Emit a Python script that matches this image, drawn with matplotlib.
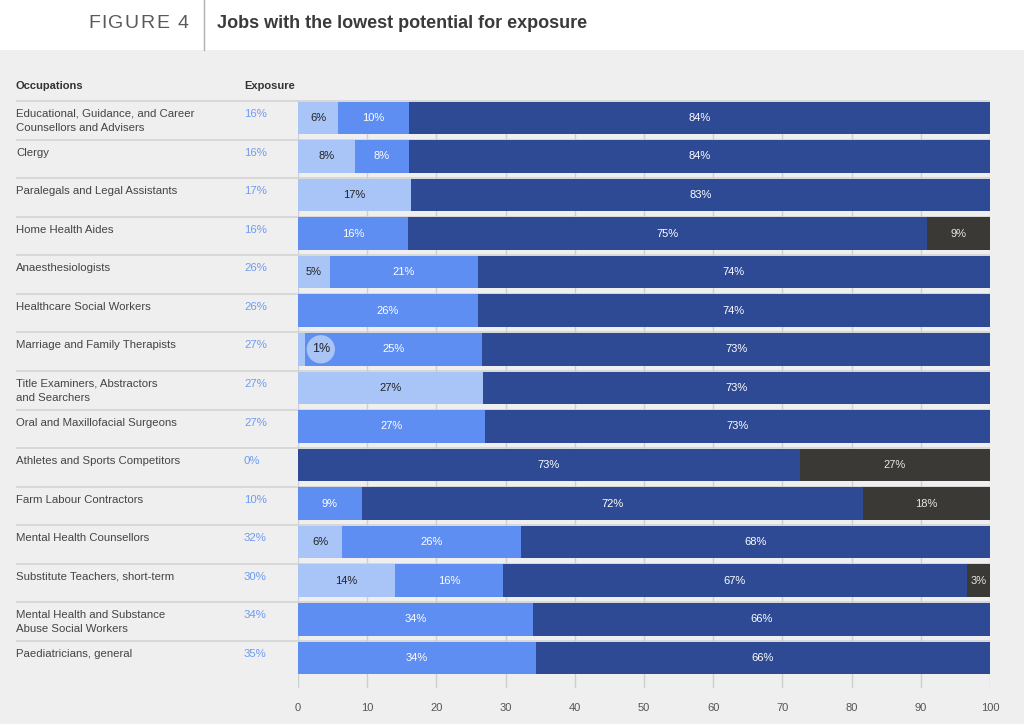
import matplotlib
matplotlib.use('Agg')
import matplotlib.pyplot as plt
from matplotlib.patches import Rectangle

plt.rcParams['font.family'] = ['Liberation Sans', 'DejaVu Sans']

occupations = [
    "Educational, Guidance, and Career\nCounsellors and Advisers",
    "Clergy",
    "Paralegals and Legal Assistants",
    "Home Health Aides",
    "Anaesthesiologists",
    "Healthcare Social Workers",
    "Marriage and Family Therapists",
    "Title Examiners, Abstractors\nand Searchers",
    "Oral and Maxillofacial Surgeons",
    "Athletes and Sports Competitors",
    "Farm Labour Contractors",
    "Mental Health Counsellors",
    "Substitute Teachers, short-term",
    "Mental Health and Substance\nAbuse Social Workers",
    "Paediatricians, general",
]
exposure = [16, 16, 17, 16, 26, 26, 27, 27, 27, 0, 10, 32, 30, 34, 35]

# segment widths
seg_light = [5.8, 8.2, 16.3, 0, 4.6, 0, 1.0, 26.7, 0, 0, 0, 6.4, 14.0, 0, 0]
seg_mid = [10.2, 7.8, 0, 15.9, 21.4, 26.0, 25.6, 0, 27.0, 0, 9.2, 25.8, 15.6, 34.0, 34.4]
seg_dark = [84.0, 84.0, 83.7, 75.0, 74.0, 74.0, 73.4, 73.3, 73.0, 72.5, 72.4, 67.8, 67.1, 66.0, 65.6]
seg_gray = [0, 0, 0, 9.1, 0, 0, 0, 0, 0, 27.5, 18.4, 0, 3.3, 0, 0]

# printed labels on the segments
lbl_light = [6, 8, 17, None, 5, None, 1, 27, None, None, None, 6, 14, None, None]
lbl_mid = [10, 8, None, 16, 21, 26, 25, None, 27, None, 9, 26, 16, 34, 34]
lbl_dark = [84, 84, 83, 75, 74, 74, 73, 73, 73, 73, 72, 68, 67, 66, 66]
lbl_gray = [None, None, None, 9, None, None, None, None, None, 27, 18, None, 3, None, None]

x_ticks = [0, 10, 20, 30, 40, 50, 60, 70, 80, 90, 100]

C_LIGHT = '#a9c5f7'
C_MID = '#5f8ef3'
C_DARK = '#2f4a95'
C_GRAY = '#3a3936'
BG = '#efefef'

W, H = 1024, 724
fig = plt.figure(figsize=(W / 100, H / 100), dpi=100, facecolor=BG)

# overlay axes in pixel coordinates
ov = fig.add_axes([0, 0, 1, 1], zorder=0)
ov.set_xlim(0, W)
ov.set_ylim(H, 0)
ov.axis('off')
ov.add_patch(Rectangle((0, 0), W, 50, facecolor='white', edgecolor='none'))
ov.plot([204, 204], [0, 50], color='#b0b0b0', lw=1)

# FIGURE 4 letter-spaced
adv = {'F': 13.3, 'I': 7.0, 'G': 16.6, 'U': 15.6, 'R': 15.6, 'E': 14.6, ' ': 6.5, '4': 11}
x = 88
for ch in "FIGURE 4":
    ov.text(x, 23, ch, fontsize=14, color='#5a5a5a', va='center', ha='left')
    x += adv[ch]
ov.text(217, 23, "Jobs with the lowest potential for exposure", fontsize=13,
        fontweight='bold', color='#3a3a3a', va='center', ha='left')

ov.text(16, 86, "Occupations", fontsize=8, fontweight='bold', color='#333333', va='center')
ov.text(244, 86, "Exposure", fontsize=8, fontweight='bold', color='#333333', va='center')

ROW0 = 101
PITCH = 38.57
for i, (occ, ex) in enumerate(zip(occupations, exposure)):
    top = ROW0 + PITCH * i
    ov.plot([16, 990], [top, top], color='#d4d4d4', lw=1.2, solid_capstyle='butt')
    for k, line in enumerate(occ.split('\n')):
        ov.text(16, top + 13 + 14 * k, line, fontsize=8.2, color='#444444',
                va='center', ha='left')
    ov.text(244, top + 13, f"{ex}%", fontsize=8.2, color='#6e9bf2', va='center', ha='left')

# bar axes
y_bottom_px = 688
ax = fig.add_axes([298 / W, 1 - y_bottom_px / H, 692 / W, (y_bottom_px - ROW0) / H], zorder=1)
ax.patch.set_visible(False)
n = len(occupations)
ax.set_xlim(0, 100)
ax.set_ylim((y_bottom_px - ROW0) / PITCH, 0)
for s in ax.spines.values():
    s.set_visible(False)
ax.set_yticks([])
ax.set_xticks(x_ticks)
ax.set_xticklabels([str(t) for t in x_ticks])
ax.tick_params(axis='x', length=0, pad=11, labelsize=8, labelcolor='#555555')
ax.grid(axis='x', color='#cfcfcf', lw=1)
ax.set_axisbelow(True)

bh = 32.5 / PITCH
y0 = [i + 0.6 / PITCH for i in range(n)]
left = [0.0] * n
series = [
    (seg_light, lbl_light, C_LIGHT, '#222222'),
    (seg_mid, lbl_mid, C_MID, 'white'),
    (seg_dark, lbl_dark, C_DARK, 'white'),
    (seg_gray, lbl_gray, C_GRAY, '#e8e8e8'),
]
for vals, lbls, col, tcol in series:
    ax.barh(y0, vals, left=left, height=bh, align='edge', color=col, edgecolor='none', zorder=2)
    for i in range(n):
        if vals[i] > 0 and lbls[i] is not None:
            cx = left[i] + vals[i] / 2
            cy = y0[i] + bh / 2
            if vals[i] < 2:
                ax.text(3.3, cy, f"{lbls[i]}%", fontsize=9, color='#222222', ha='center',
                        va='center', zorder=4,
                        bbox=dict(boxstyle='circle,pad=0.4', fc=C_LIGHT, ec='none'))
            else:
                ax.text(cx, cy, f"{lbls[i]}%", fontsize=8, color=tcol, ha='center',
                        va='center', zorder=3)
    left = [l + v for l, v in zip(left, vals)]

fig.savefig('out.png', dpi=100, facecolor=BG)
